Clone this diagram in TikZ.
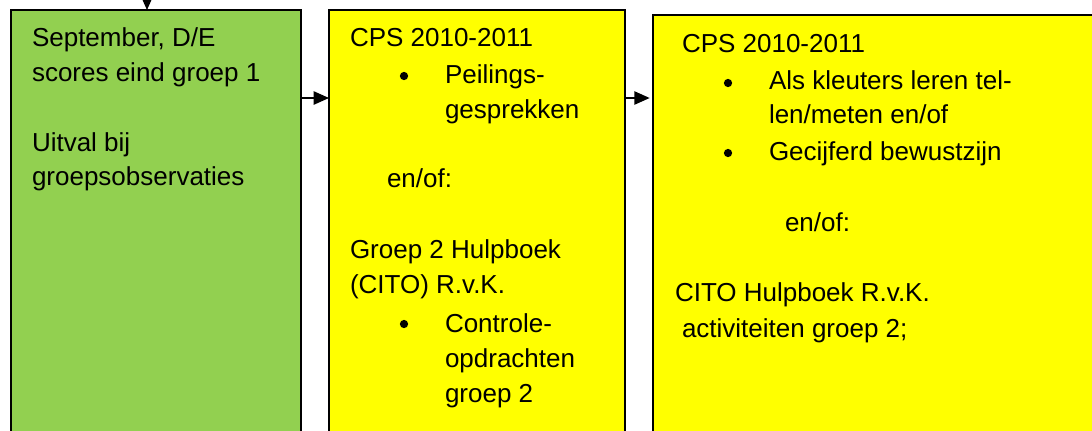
\documentclass[tikz,border=0pt]{standalone}
\usepackage{fontspec}
\setmainfont{Liberation Sans}
\usetikzlibrary{arrows.meta}
\definecolor{boxgreen}{RGB}{146,208,80}
\definecolor{boxyellow}{RGB}{255,255,0}
\begin{document}
\begin{tikzpicture}[x=0.75pt,y=-0.75pt,
  panel/.style={draw=black, line width=1.3pt, inner sep=0pt, outer sep=0pt,
    anchor=north west, minimum height=440*0.75pt},
  line/.style={anchor=base west, inner sep=0pt, outer sep=0pt,
    font=\fontsize{19.5}{23}\selectfont},
  dot/.style={circle, fill=black, inner sep=0pt, outer sep=0pt,
    minimum size=6.2pt},
  flow/.style={-{Triangle[length=11.5pt,width=10pt]}, line width=1.1pt}]
\useasboundingbox (0,0) rectangle (1092,430);
\clip (0,0) rectangle (1092,430);

% the three panels
\node[panel, fill=boxgreen,  minimum width=290*0.75pt] (g)  at (11,10) {};
\node[panel, fill=boxyellow, minimum width=296*0.75pt] (c1) at (329,10) {};
\node[panel, fill=boxyellow, minimum width=460*0.75pt] (c2) at (653,15) {};

% connectors
\coordinate (row) at (0,98);
\coordinate (feed) at (147,-30);
\draw[flow] (feed) -- (feed |- g.north);
\draw[flow] (g.east |- row) -- (c1.west |- row);
\draw[flow, shorten >=2.5pt] (c1.east |- row) -- (c2.west |- row);

% first panel
\node[line] (g1) at (32,46)  {September, D/E};
\node[line] (g2) at (32,81)  {scores eind groep 1};
\node[line] (g3) at (32,151) {Uitval bij};
\node[line] (g4) at (32,185) {groepsobservaties};

% second panel
\node[line] (a1) at (350,46)  {CPS 2010-2011};
\node[dot]  (ab1) at (404,76) {};
\node[line] (a2) at (445,83)  {Peilings-};
\node[line] (a3) at (445,118) {gesprekken};
\node[line] (a4) at (387,187) {en/of:};
\node[line] (a5) at (350,258) {Groep 2 Hulpboek};
\node[line] (a6) at (350,293) {(CITO) R.v.K.};
\node[dot]  (ab2) at (404,324) {};
\node[line] (a7) at (445,332) {Controle-};
\node[line] (a8) at (445,367) {opdrachten};
\node[line] (a9) at (445,402) {groep 2};

% third panel
\node[line] (b1) at (682,52)  {CPS 2010-2011};
\node[dot]  (bb1) at (728,83) {};
\node[line] (b2) at (769,89)  {Als kleuters leren tel-};
\node[line] (b3) at (769,123) {len/meten en/of};
\node[dot]  (bb2) at (728,153) {};
\node[line] (b4) at (769,160) {Gecijferd bewustzijn};
\node[line] (b5) at (785,231) {en/of:};
\node[line] (b6) at (675,301) {CITO Hulpboek R.v.K.};
\node[line] (b7) at (682,337) {activiteiten groep 2;};
\end{tikzpicture}
\end{document}
